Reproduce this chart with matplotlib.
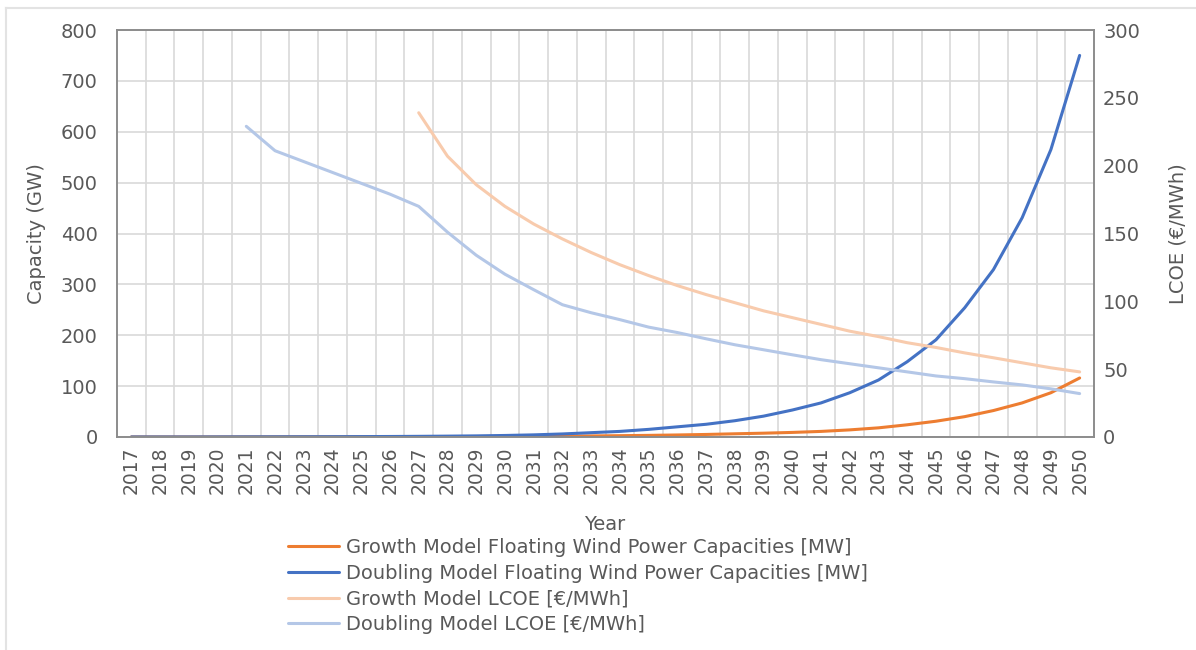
import numpy as np
import matplotlib
matplotlib.use("Agg")
import matplotlib.pyplot as plt
import matplotlib.ticker as mtick
from matplotlib.lines import Line2D

plt.rcParams['font.family'] = ['DejaVu Sans']

years = [str(y) for y in range(2017, 2051)]

# capacities (GW)
growth_cap = [0.1, 0.1, 0.1, 0.1, 0.2, 0.2, 0.3, 0.3, 0.4, 0.5, 0.6, 0.7, 0.9,
              1.1, 1.4, 1.7, 2.1, 2.6, 3.2, 4.0, 5.0, 6.3, 7.5, 9.0, 11.0, 14.0,
              18.0, 24.0, 31.0, 40.0, 52.0, 67.0, 87.0, 116.0]
doubling_cap = [0.1, 0.1, 0.1, 0.2, 0.3, 0.4, 0.5, 0.6, 0.8, 1.0, 1.3, 1.7, 2.2,
                3.0, 4.2, 6.0, 8.5, 11.0, 15.0, 20.0, 25.0, 32.0, 41.0, 53.0,
                67.0, 87.0, 112.0, 148.0, 191.0, 254.0, 329.0, 431.0, 565.0, 750.0]

# LCOE (EUR/MWh)
growth_lcoe = [None] * 10 + [239, 207, 186, 170, 157, 146, 136, 127, 119, 111.6,
                             105, 99, 93, 88, 83, 78, 74, 69.5, 66, 62, 58.4,
                             54.7, 51, 48]
doubling_lcoe = [None] * 4 + [229, 211, 203, 195, 187, 179, 170, 151, 134,
                              120, 108.6, 97.5, 91.6, 86.5, 81, 77, 72.4, 68,
                              64.3, 60.6, 57, 54, 51, 48, 45, 43, 40.6, 38.4,
                              35.5, 32]

txt = '#595959'
grid_c = '#D9D9D9'
spine_c = '#8C8C8C'

fig = plt.figure(figsize=(11.96, 6.5), dpi=100)
ax = fig.add_axes([117 / 1196, 1 - 437 / 650, (1094 - 117) / 1196, (437 - 30) / 650])
ax2 = ax.twinx()

x = np.arange(len(years))
g_l = np.array(growth_lcoe, dtype=float)
d_l = np.array(doubling_lcoe, dtype=float)

l1, = ax.plot(x, growth_cap, color='#ED7D31', lw=2.2, solid_capstyle='round')
l2, = ax.plot(x, doubling_cap, color='#4472C4', lw=2.2, solid_capstyle='round')
l3, = ax2.plot(x, g_l, color='#F8CBAD', lw=2.2, solid_capstyle='round')
l4, = ax2.plot(x, d_l, color='#B4C7E7', lw=2.2, solid_capstyle='round')

ax.set_xlim(-0.5, len(years) - 0.5)
ax.set_ylim(0, 800)
ax2.set_ylim(0, 300)
ax.yaxis.set_major_locator(mtick.MultipleLocator(100))
ax2.yaxis.set_major_locator(mtick.MultipleLocator(50))

ax.set_xticks(x)
ax.set_xticklabels(years, rotation=90, fontsize=13.5, color=txt)
ax.xaxis.set_minor_locator(mtick.FixedLocator(np.arange(0.5, len(years) - 1, 1)))
ax.grid(True, which='minor', axis='x', color=grid_c, lw=1.2)
ax.grid(True, which='major', axis='y', color=grid_c, lw=1.2)
ax.set_axisbelow(True)
ax.tick_params(axis='x', which='both', length=0, pad=7)
ax.tick_params(axis='y', length=0, labelsize=14, labelcolor=txt, pad=14)
ax2.tick_params(axis='y', length=0, labelsize=14, labelcolor=txt, pad=6.5)

for a in (ax, ax2):
    for s in a.spines.values():
        s.set_color(spine_c)
        s.set_linewidth(1.2)

fig.text(37 / 1196, 1 - 234 / 650, 'Capacity (GW)', rotation=90, ha='center', va='center',
         fontsize=14, color=txt)
fig.text(1178 / 1196, 1 - 234 / 650, 'LCOE (€/MWh)', rotation=90, ha='center', va='center',
         fontsize=14, color=txt)
fig.text(605 / 1196, 1 - 525 / 650, 'Year', ha='center', va='center', fontsize=14, color=txt)

leg = fig.legend([l1, l2, l3, l4],
                 ['Growth Model Floating Wind Power Capacities [MW]',
                  'Doubling Model Floating Wind Power Capacities [MW]',
                  'Growth Model LCOE [€/MWh]',
                  'Doubling Model LCOE [€/MWh]'],
                 loc='center left', bbox_to_anchor=(288 / 1196, 1 - 586 / 650),
                 frameon=False, fontsize=14, handlelength=2.6, handletextpad=0.36,
                 labelspacing=0.35, borderpad=0, borderaxespad=0)
for t in leg.get_texts():
    t.set_color(txt)

# light border of the chart area (left and top edges)
fig.add_artist(Line2D([6 / 1196, 6 / 1196], [0, 1 - 8 / 650], transform=fig.transFigure,
                      color='#E3E3E3', lw=1.5))
fig.add_artist(Line2D([6 / 1196, 1], [1 - 8 / 650, 1 - 8 / 650], transform=fig.transFigure,
                      color='#E3E3E3', lw=1.5))

fig.savefig('out.png', dpi=100, facecolor='white')
